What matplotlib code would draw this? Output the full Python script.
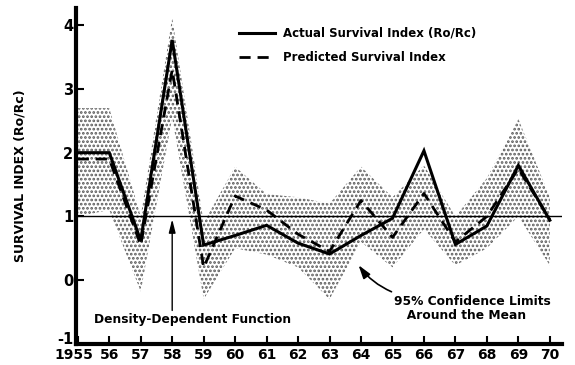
import matplotlib
matplotlib.use("Agg")
import matplotlib.pyplot as plt
import matplotlib.transforms as mtransforms
import numpy as np

years = list(range(1955, 1971))
actual = [2.0, 2.0, 0.62, 3.77, 0.55, 0.70, 0.86, 0.58, 0.41, 0.70, 0.97, 2.03, 0.56, 0.85, 1.80, 0.94]
predicted = [1.90, 1.90, 0.55, 3.30, 0.20, 1.32, 1.10, 0.72, 0.45, 1.25, 0.67, 1.36, 0.60, 1.00, 1.75, 0.95]
upper = [2.70, 2.70, 1.00, 4.12, 0.90, 1.78, 1.35, 1.30, 1.20, 1.78, 1.30, 1.80, 1.00, 1.60, 2.53, 1.30]
lower = [1.00, 1.10, -0.18, 2.55, -0.30, 0.50, 0.40, 0.20, -0.30, 0.60, 0.20, 0.80, 0.23, 0.50, 1.00, 0.23]
tick_labels = ["1955", "56", "57", "58", "59", "60", "61", "62", "63", "64", "65", "66", "67", "68", "69", "70"]
y_ticks = [-1, 0, 1, 2, 3, 4]

plt.rcParams['font.family'] = ['DejaVu Sans']
plt.rcParams['hatch.linewidth'] = 1.3
plt.rcParams['hatch.color'] = '#5a5a5a'

fig = plt.figure(figsize=(5.75, 3.65), dpi=100)
ax = fig.add_axes([0.132, 0.058, 0.845, 0.92])

ax.fill_between(years, lower, upper, facecolor='none', edgecolor='#5a5a5a',
                hatch='....', linewidth=0)
ax.axhline(1, color='black', lw=1.0)
ax.plot(years, actual, color='black', lw=2.2, solid_joinstyle='miter')
ax.plot(years, predicted, color='black', lw=2.0, dashes=(4, 2.5))

ax.set_xlim(1954.94, 1970.38)
ax.set_ylim(-1.0, 4.27)
ax.set_xticks(years)
ax.set_xticklabels(tick_labels, fontsize=10, fontweight='bold')
ax.set_yticks(y_ticks)
ax.set_yticklabels([str(v) for v in y_ticks], fontsize=10.5, fontweight='bold')
ax.tick_params(axis='both', direction='in', length=6, width=1.5, pad=2)
ax.tick_params(axis='x', pad=3)
# nudge the -1 label up so it clears the "1955" label
lbl = ax.get_yticklabels()[0]
lbl.set_transform(lbl.get_transform() + mtransforms.ScaledTranslation(0, 4 / 72, fig.dpi_scale_trans))
# nudge "1955" a little left to leave a gap before "56"
xl = ax.get_xticklabels()[0]
xl.set_transform(xl.get_transform() + mtransforms.ScaledTranslation(-3 / 72, 0, fig.dpi_scale_trans))
for s in ['top', 'right']:
    ax.spines[s].set_visible(False)
for s in ['left', 'bottom']:
    ax.spines[s].set_linewidth(3)

ax.set_ylabel("SURVIVAL INDEX (Ro/Rc)", fontsize=9, fontweight='bold', labelpad=22)

# legend (manual)
ax.plot([0.335, 0.41], [0.925, 0.925], transform=ax.transAxes, color='black', lw=2.2)
ax.text(0.427, 0.925, "Actual Survival Index (Ro/Rc)", transform=ax.transAxes,
        fontsize=8.5, fontweight='bold', va='center')
ax.plot([0.335, 0.41], [0.853, 0.853], transform=ax.transAxes, color='black', lw=2.0,
        dashes=(4, 2.5))
ax.text(0.427, 0.853, "Predicted Survival Index", transform=ax.transAxes,
        fontsize=8.5, fontweight='bold', va='center')

# annotations
ax.annotate("", xy=(1958, 1.0), xytext=(1958, -0.52),
            arrowprops=dict(arrowstyle='-|>,head_length=0.8,head_width=0.2', color='black', lw=1.0))
ax.text(1955.5, -0.62, "Density-Dependent Function", fontsize=8.8, fontweight='bold', va='center')

ax.annotate("", xy=(1963.87, 0.27), xytext=(1965.05, -0.20),
            arrowprops=dict(arrowstyle='-|>,head_length=0.8,head_width=0.25', color='black', lw=1.2,
                            connectionstyle='arc3,rad=-0.15'))
ax.text(1965.05, -0.24, "95% Confidence Limits\n   Around the Mean", fontsize=8.8,
        fontweight='bold', va='top', linespacing=1.1)

fig.savefig("out.png", dpi=100)
